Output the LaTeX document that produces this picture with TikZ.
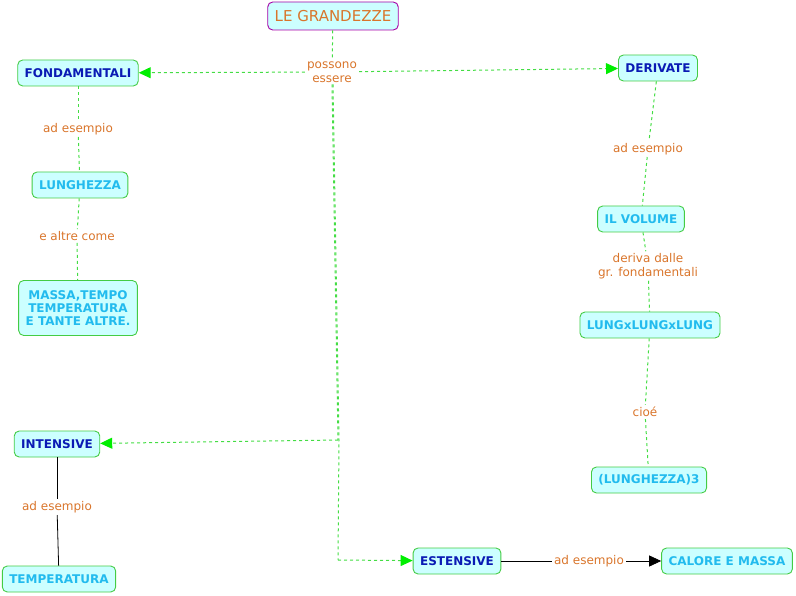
\documentclass[tikz,border=0pt]{standalone}
\usepackage{fontspec}
\setmainfont{DejaVu Sans}
\usetikzlibrary{arrows.meta}

\definecolor{boxfill}{HTML}{CCFFFF}
\definecolor{boxline}{HTML}{44CC44}
\definecolor{linkgreen}{HTML}{44DD44}
\definecolor{tipgreen}{HTML}{00EE00}
\definecolor{phrasecol}{HTML}{D9752B}
\definecolor{darkblu}{HTML}{0A1AB4}
\definecolor{lightblu}{HTML}{22BBEE}

\tikzset{
	concept/.style={draw=boxline, fill=boxfill, rounded corners=5pt, line width=0.9pt,
		minimum height=26pt, inner xsep=7pt, inner ysep=3pt, align=center,
		font=\fontsize{12}{13}\selectfont\bfseries, text=lightblu},
	mainconcept/.style={concept, text=darkblu},
	phrase/.style={inner sep=2pt, align=center, text=phrasecol,
		font=\fontsize{12}{13.5}\selectfont},
	link/.style={draw=linkgreen, dashed, line width=1pt},
	linkarrow/.style={link, -{Triangle[length=12pt,width=11pt,color=tipgreen]}},
	plain/.style={draw=black, line width=0.8pt}
}

\begin{document}
\begin{tikzpicture}[x=1pt,y=-1pt]
	\useasboundingbox (0,0) rectangle (796,596);

	\node[concept, draw=violet!70!magenta, text=phrasecol, font=\fontsize{15}{18}\selectfont, minimum height=28pt] (G) at (333,16) {LE GRANDEZZE};
	\node[phrase] (P) at (332,72) {possono\\essere};

	\node[mainconcept] (F) at (78,73) {FONDAMENTALI};
	\node[mainconcept] (D) at (658,68) {DERIVATE};
	\node[mainconcept] (I) at (57,444) {INTENSIVE};
	\node[mainconcept] (E) at (457,561) {ESTENSIVE};

	\node[phrase] (F1) at (78,129) {ad esempio};
	\node[concept] (L) at (80,185) {LUNGHEZZA};
	\node[phrase] (F2) at (77,236) {e altre come};
	\node[concept, minimum height=55pt] (M) at (78,308) {MASSA,TEMPO\\TEMPERATURA\\E TANTE ALTRE.};

	\node[phrase] (D1) at (648,149) {ad esempio};
	\node[concept] (V) at (641,219) {IL VOLUME};
	\node[phrase] (D2) at (648,266) {deriva dalle\\gr. fondamentali};
	\node[concept] (X) at (650,325) {LUNGxLUNGxLUNG};
	\node[phrase] (D3) at (645,412) {cioé};
	\node[concept] (C) at (649,480) {(LUNGHEZZA)3};

	\node[phrase] (I1) at (57,507) {ad esempio};
	\node[concept] (T) at (59,579) {TEMPERATURA};

	\node[phrase] (E1) at (589,561) {ad esempio};
	\node[concept] (K) at (727,561) {CALORE E MASSA};

	\coordinate (ci) at (338,440);
	\coordinate (ce) at (338,560);

	\draw[link] (G) -- (P);
	\draw[linkarrow] (P) -- (F);
	\draw[linkarrow] (P) -- (D);
	\draw[link] (P.south) -- (ci);
	\draw[linkarrow] (ci) -- (I);
	\draw[link] ([xshift=1pt]P.south) -- ([xshift=1pt]ci) -- (ce);
	\draw[linkarrow] (ce) -- (E);

	\draw[link] (F) -- (F1);
	\draw[link] (F1) -- (L);
	\draw[link] (L) -- (F2);
	\draw[link] (F2) -- (M);

	\draw[link] (D) -- (D1);
	\draw[link] (D1) -- (V);
	\draw[link] (V) -- (D2);
	\draw[link] (D2) -- (X);
	\draw[link] (X) -- (D3);
	\draw[link] (D3) -- (C);

	\draw[plain] (I) -- (I1);
	\draw[plain] (I1) -- (T);

	\draw[plain] (E) -- (E1);
	\draw[plain, -{Triangle[length=12pt,width=11pt]}] (E1) -- (K);
\end{tikzpicture}
\end{document}
